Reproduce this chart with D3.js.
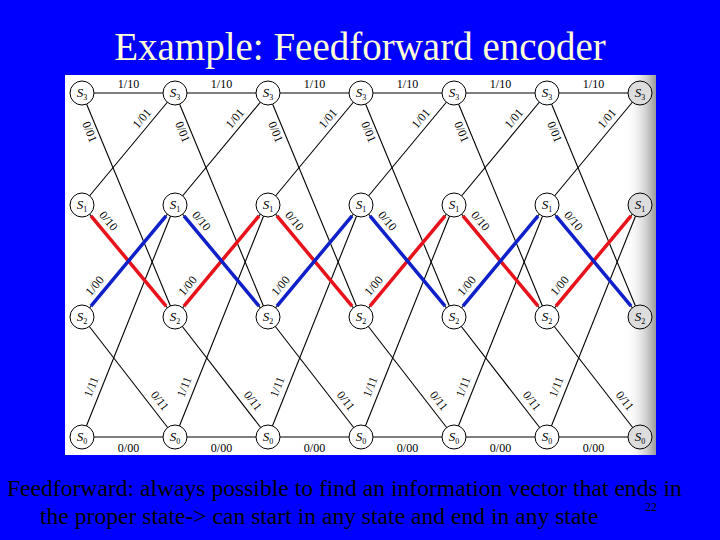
<!DOCTYPE html>
<html><head><meta charset="utf-8">
<script src="https://cdn.jsdelivr.net/npm/d3@7"></script>
<style>body{margin:0;background:#0000ff;} svg{display:block;}</style>
</head><body>
<svg id="c" width="720" height="540"></svg>
<script>
// trellis data
const stages = [0, 1, 2, 3, 4, 5, 6];
const states = ["3", "1", "2", "0"];           // top to bottom
const transitions = [
  {from: "3", to: "3", label: "1/10", t: 0.5, off: -8},
  {from: "3", to: "2", label: "0/01", t: 0.16, off: 9},
  {from: "1", to: "3", label: "1/01", t: 0.72, off: -8},
  {from: "1", to: "2", label: "0/10", t: 0.2, off: -9},
  {from: "2", to: "1", label: "1/00", t: 0.22, off: -9},
  {from: "2", to: "0", label: "0/11", t: 0.75, off: -9},
  {from: "0", to: "1", label: "1/11", t: 0.2, off: -9},
  {from: "0", to: "0", label: "0/00", t: 0.5, off: 12}
];
const redPath = ["1", "2", "1", "2", "1", "2", "1"];
const bluePath = ["2", "1", "2", "1", "2", "1", "2"];

const svg = d3.select("#c");
const x = d3.scaleLinear().domain([0, 6]).range([82, 640]);
const y = d3.scaleOrdinal().domain(states).range([93, 205, 317, 437]);

svg.append("text").attr("x", 360).attr("y", 60).attr("text-anchor", "middle")
  .attr("font-family", "Liberation Serif").attr("font-size", 39).attr("fill", "#ffffd8")
  .text("Example: Feedforward encoder");

// white panel
const defs = svg.append("defs");
const g = defs.append("linearGradient").attr("id", "shade");
g.append("stop").attr("offset", "0").attr("stop-color", "#fff").attr("stop-opacity", 0);
g.append("stop").attr("offset", "1").attr("stop-color", "#999").attr("stop-opacity", 1);
svg.append("rect").attr("x", 65).attr("y", 75).attr("width", 591).attr("height", 380).attr("fill", "#fff");
svg.append("rect").attr("x", 625).attr("y", 75).attr("width", 31).attr("height", 380).attr("fill", "url(#shade)");

const R = 12;
const lines = svg.append("g");
const labs = svg.append("g").attr("font-family", "Liberation Serif").attr("font-size", 12).attr("fill", "#000");

stages.slice(0, -1).forEach(i => {
  transitions.forEach(tr => {
    const x1 = x(i), y1 = y(tr.from), x2 = x(i + 1), y2 = y(tr.to);
    lines.append("line").attr("x1", x1).attr("y1", y1).attr("x2", x2).attr("y2", y2)
      .attr("stroke", "#000").attr("stroke-width", 1.1);
    const dx = x2 - x1, dy = y2 - y1, len = Math.hypot(dx, dy);
    const nx = -dy / len, ny = dx / len;
    const px = x1 + dx * tr.t + nx * tr.off, py = y1 + dy * tr.t + ny * tr.off;
    const ang = Math.atan2(dy, dx) * 180 / Math.PI;
    labs.append("text").attr("text-anchor", "middle").attr("dominant-baseline", "middle")
      .attr("transform", `translate(${px},${py}) rotate(${ang})`).text(tr.label);
  });
});

// highlighted paths
function drawPath(path, color) {
  stages.slice(0, -1).forEach(i => {
    const x1 = x(i), y1 = y(path[i]), x2 = x(i + 1), y2 = y(path[i + 1]);
    const dx = x2 - x1, dy = y2 - y1, len = Math.hypot(dx, dy);
    const a = 14 / len;
    svg.append("line")
      .attr("x1", x1 + dx * a).attr("y1", y1 + dy * a)
      .attr("x2", x2 - dx * a).attr("y2", y2 - dy * a)
      .attr("stroke", color).attr("stroke-width", 3.5);
  });
}
drawPath(redPath, "#e8121a");
drawPath(bluePath, "#1020c8");

// state nodes
stages.forEach(i => {
  states.forEach(s => {
    const n = svg.append("g").attr("transform", `translate(${x(i)},${y(s)})`);
    n.append("circle").attr("r", R).attr("fill", i === 6 ? "#ddd" : "#fff").attr("stroke", "#000");
    const t = n.append("text").attr("text-anchor", "middle").attr("y", 4)
      .attr("font-family", "Liberation Serif").attr("font-size", 13);
    t.append("tspan").attr("font-style", "italic").text("S");
    t.append("tspan").attr("font-size", 8).attr("dy", 3).text(s);
  });
});

const foot = svg.append("g").attr("font-family", "Liberation Serif").attr("font-size", 23.6).attr("fill", "#000");
foot.append("text").attr("x", 7).attr("y", 496).text("Feedforward: always possible to find an information vector that ends in");
foot.append("text").attr("x", 40).attr("y", 524).text("the proper state-> can start in any state and end in any state");
svg.append("text").attr("x", 645).attr("y", 511).attr("font-family", "Liberation Serif")
  .attr("font-size", 12).attr("fill", "#000").text("22");
</script>
</body></html>
